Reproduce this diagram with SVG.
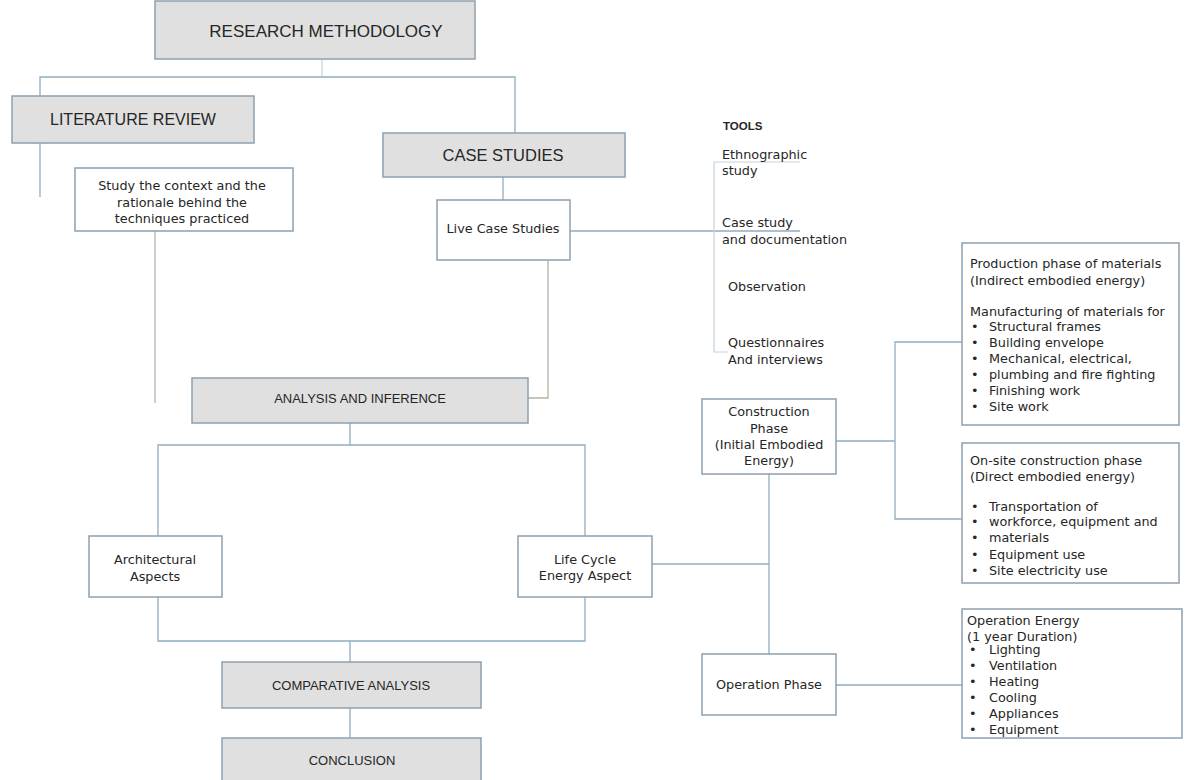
<svg xmlns="http://www.w3.org/2000/svg" width="1189" height="780" viewBox="0 0 1189 780">
<style>
.g{fill:#e0e0e0;stroke:#8da0b0;stroke-width:1.5}
.w{fill:#ffffff;stroke:#8da0b0;stroke-width:1.5}
.c{fill:none;stroke:#8fadc2;stroke-width:1.3}
.f{fill:none;stroke:#c3d3de;stroke-width:1.2}
.o{fill:none;stroke:#b8b2a4;stroke-width:1.3}
text{font-family:"Liberation Sans",Arial,sans-serif;fill:#262626}
.b{font-family:"DejaVu Sans","Liberation Sans",sans-serif;font-size:12.8px}
.t18{font-size:17px}
.t13{font-size:13px}
.m{text-anchor:middle}
</style>
<rect width="1189" height="780" fill="#ffffff"/>
<g id="connectors">
<path class="f" d="M322,59 V77"/>
<path class="c" d="M40,96 V77 H515 V133"/>
<path class="c" d="M40,143 V197"/>
<path class="o" d="M155,231 V403"/>
<path class="c" d="M503,177 V200"/>
<path class="c" d="M570,231 H800"/>
<path class="f" d="M800,162 H714 V352 H728"/>
<path class="o" d="M548,260 V398 H528"/>
<path class="c" d="M350,423 V445 M158,536 V445 H585 V536"/>
<path class="c" d="M158,597 V641 H585 V597 M350,641 V662"/>
<path class="c" d="M350,708 V738"/>
<path class="c" d="M652,564 H769 M769,474 V654"/>
<path class="c" d="M836,441 H895 M962,342 H895 V519 H962"/>
<path class="c" d="M836,685 H962"/>
</g>
<g id="research-methodology">
<rect class="g" x="155" y="1" width="320" height="58"/>
<text class="t18 m" x="326" y="37">RESEARCH METHODOLOGY</text>
</g>
<g id="literature-review">
<rect class="g" x="12" y="96" width="242" height="47"/>
<text class="m" x="133" y="125" style="font-size:16px">LITERATURE REVIEW</text>
</g>
<g id="case-studies">
<rect class="g" x="383" y="133" width="242" height="44"/>
<text class="m" x="503" y="161" style="font-size:16.5px">CASE STUDIES</text>
</g>
<g id="study-context">
<rect class="w" x="75" y="168" width="218" height="63"/>
<text class="b m" x="182" y="190">Study the context and the</text>
<text class="b m" x="182" y="207">rationale behind the</text>
<text class="b m" x="182" y="223">techniques practiced</text>
</g>
<g id="live-case-studies">
<rect class="w" x="437" y="200" width="133" height="60"/>
<text class="b m" x="503" y="233">Live Case Studies</text>
</g>
<g id="tools">
<text x="723" y="130" style="font-size:11.5px;font-weight:bold">TOOLS</text>
<text class="b" x="722" y="159">Ethnographic</text>
<text class="b" x="722" y="175">study</text>
<text class="b" x="722" y="227">Case study</text>
<text class="b" x="722" y="244">and documentation</text>
<text class="b" x="728" y="291">Observation</text>
<text class="b" x="728" y="347">Questionnaires</text>
<text class="b" x="728" y="364">And interviews</text>
</g>
<g id="analysis">
<rect class="g" x="192" y="378" width="336" height="45"/>
<text class="t13 m" x="360" y="403">ANALYSIS AND INFERENCE</text>
</g>
<g id="architectural">
<rect class="w" x="89" y="536" width="133" height="61"/>
<text class="b m" x="155" y="564">Architectural</text>
<text class="b m" x="155" y="581">Aspects</text>
</g>
<g id="life-cycle">
<rect class="w" x="518" y="536" width="134" height="61"/>
<text class="b m" x="585" y="564">Life Cycle</text>
<text class="b m" x="585" y="580">Energy Aspect</text>
</g>
<g id="comparative">
<rect class="g" x="222" y="662" width="259" height="46"/>
<text class="t13 m" x="351" y="690">COMPARATIVE ANALYSIS</text>
</g>
<g id="conclusion">
<rect class="g" x="222" y="738" width="259" height="50"/>
<text class="t13 m" x="352" y="765">CONCLUSION</text>
</g>
<g id="construction-phase">
<rect class="w" x="702" y="399" width="134" height="75"/>
<text class="b m" x="769" y="416">Construction</text>
<text class="b m" x="769" y="433">Phase</text>
<text class="b m" x="769" y="449">(Initial Embodied</text>
<text class="b m" x="769" y="465">Energy)</text>
</g>
<g id="operation-phase">
<rect class="w" x="702" y="654" width="134" height="61"/>
<text class="b m" x="769" y="689">Operation Phase</text>
</g>
<g id="production">
<rect class="w" x="962" y="243" width="217" height="182"/>
<text class="b" x="970" y="268">Production phase of materials</text>
<text class="b" x="970" y="285">(Indirect embodied energy)</text>
<text class="b" x="970" y="316">Manufacturing of materials for</text>
<text class="b" x="971" y="331">•</text><text class="b" x="989" y="331">Structural frames</text>
<text class="b" x="971" y="347">•</text><text class="b" x="989" y="347">Building envelope</text>
<text class="b" x="971" y="363">•</text><text class="b" x="989" y="363">Mechanical, electrical,</text>
<text class="b" x="971" y="379">•</text><text class="b" x="989" y="379">plumbing and fire fighting</text>
<text class="b" x="971" y="395">•</text><text class="b" x="989" y="395">Finishing work</text>
<text class="b" x="971" y="411">•</text><text class="b" x="989" y="411">Site work</text>
</g>
<g id="onsite">
<rect class="w" x="962" y="443" width="217" height="140"/>
<text class="b" x="970" y="465">On-site construction phase</text>
<text class="b" x="970" y="481">(Direct embodied energy)</text>
<text class="b" x="971" y="511">•</text><text class="b" x="989" y="511">Transportation of</text>
<text class="b" x="971" y="526">•</text><text class="b" x="989" y="526">workforce, equipment and</text>
<text class="b" x="971" y="542">•</text><text class="b" x="989" y="542">materials</text>
<text class="b" x="971" y="559">•</text><text class="b" x="989" y="559">Equipment use</text>
<text class="b" x="971" y="575">•</text><text class="b" x="989" y="575">Site electricity use</text>
</g>
<g id="operation-energy">
<rect class="w" x="962" y="609" width="220" height="129"/>
<text class="b" x="967" y="625">Operation Energy</text>
<text class="b" x="967" y="641">(1 year Duration)</text>
<text class="b" x="969" y="654">•</text><text class="b" x="989" y="654">Lighting</text>
<text class="b" x="969" y="670">•</text><text class="b" x="989" y="670">Ventilation</text>
<text class="b" x="969" y="686">•</text><text class="b" x="989" y="686">Heating</text>
<text class="b" x="969" y="702">•</text><text class="b" x="989" y="702">Cooling</text>
<text class="b" x="969" y="718">•</text><text class="b" x="989" y="718">Appliances</text>
<text class="b" x="969" y="734">•</text><text class="b" x="989" y="734">Equipment</text>
</g>
</svg>
